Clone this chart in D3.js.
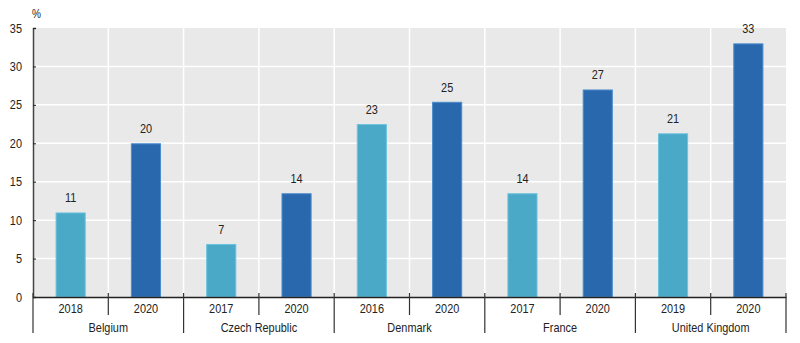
<!DOCTYPE html>
<html><head><meta charset="utf-8">
<script src="https://cdn.jsdelivr.net/npm/d3@7"></script>
<style>body{margin:0;background:#fff;}svg{display:block;font-family:"Liberation Sans",Arial,sans-serif;}</style>
</head><body><svg id="c" width="800" height="343"></svg>
<script>
const countries = ["Belgium","Czech Republic","Denmark","France","United Kingdom"];
const years = [["2018","2020"],["2017","2020"],["2016","2020"],["2017","2020"],["2019","2020"]];
const values = [[11,20],[6.9,13.5],[22.5,25.4],[13.5,27],[21.3,33]];
const labels = [["11","20"],["7","14"],["23","25"],["14","27"],["21","33"]];
const yTicks = [0,5,10,15,20,25,30,35];

const rows = [];
countries.forEach((c,i)=>years[i].forEach((y,j)=>rows.push({key:c+"|"+y,country:c,year:y,value:values[i][j],label:labels[i][j],idx:j})));

const svg = d3.select("#c");
const L=33, R=786, T=28, B=297;
const FS=13, SX=0.84;
const x = d3.scaleBand().domain(rows.map(d=>d.key)).range([L,R]).paddingInner(0).paddingOuter(0);
const y = d3.scaleLinear().domain([0,35]).range([B,T]);

function txt(g, px, py, s, anchor, size){
  return g.append("text").attr("transform",`translate(${px},${py}) scale(${SX},1)`)
    .attr("text-anchor",anchor||"middle").attr("font-size",size||FS).attr("fill","#222").text(s);
}

svg.append("rect").attr("x",L).attr("y",T).attr("width",R-L).attr("height",B-T).attr("fill","#e9e9e9");
svg.append("g").selectAll("line").data(yTicks.filter(t=>t>0&&t<35)).join("line")
  .attr("x1",L).attr("x2",R).attr("y1",d=>y(d)).attr("y2",d=>y(d)).attr("stroke","#fff").attr("stroke-width",1.5);
svg.append("g").selectAll("line").data(rows.slice(1)).join("line")
  .attr("x1",d=>x(d.key)).attr("x2",d=>x(d.key)).attr("y1",T).attr("y2",B).attr("stroke","#fff").attr("stroke-width",1.5);

const bw = x.bandwidth()*0.4;
const fills=["#4ba9c8","#2a68ae"], strokes=["#6cc3dd","#4a8ccc"];
svg.append("g").selectAll("rect").data(rows).join("rect")
  .attr("x",d=>x(d.key)+x.bandwidth()/2-bw/2+0.5).attr("width",bw-1)
  .attr("y",d=>y(d.value)+0.5).attr("height",d=>B-y(d.value)-0.5)
  .attr("fill",d=>fills[d.idx]).attr("stroke",d=>strokes[d.idx]).attr("stroke-width",1);
const lg = svg.append("g");
rows.forEach(d=>txt(lg, x(d.key)+x.bandwidth()/2, y(d.value)-10, d.label));

const ya = svg.append("g").attr("transform",`translate(${L},0)`).call(d3.axisRight(y).tickValues(yTicks).tickSize(3).tickFormat(""));
ya.select(".domain").attr("stroke","#444").attr("stroke-width",1.5);
ya.selectAll(".tick line").attr("stroke","#222");
const yl = svg.append("g");
yTicks.forEach(t=>txt(yl, 22, y(t)+4.5, String(t), "end"));
txt(svg, 32, 18, "%", "start", 12);

const xa = svg.append("g").attr("transform",`translate(0,${B})`).call(d3.axisBottom(x).tickSize(0).tickFormat(""));
xa.select(".domain").attr("stroke","#222").attr("stroke-width",1.5);
xa.selectAll(".tick line").remove();
const xl = svg.append("g");
rows.forEach(d=>txt(xl, x(d.key)+x.bandwidth()/2, B+15.5, d.year));
const bounds = rows.map(d=>x(d.key)).concat([R]);
bounds.forEach((b,i)=>{
  const group = (i%2===0);
  svg.append("line").attr("x1",b).attr("x2",b).attr("y1",B-4).attr("y2",group?333:315)
    .attr("stroke","#333").attr("stroke-width",1.2);
});
countries.forEach((c,i)=>{
  const a = x(c+"|"+years[i][0]), b = x(c+"|"+years[i][1])+x.bandwidth();
  txt(svg, (a+b)/2, 331.5, c);
});
</script></body></html>
